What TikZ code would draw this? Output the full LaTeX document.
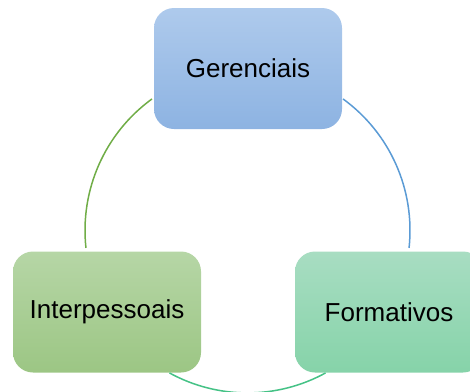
\documentclass[tikz,border=0pt]{standalone}
\usepackage{fontspec}
\setmainfont{Liberation Sans}
\usepackage{tikz}
\usetikzlibrary{positioning}

\definecolor{gerTop}{HTML}{AECAEC}
\definecolor{gerBot}{HTML}{8DB3E2}
\definecolor{intTop}{HTML}{B6D6A6}
\definecolor{intBot}{HTML}{9CC684}
\definecolor{forTop}{HTML}{A8DDC2}
\definecolor{forBot}{HTML}{86D3A9}
\definecolor{blueLine}{HTML}{5B9BD5}
\definecolor{greenLine}{HTML}{70AD47}
\definecolor{tealLine}{HTML}{45C286}

\begin{document}
\begin{tikzpicture}[x=1pt, y=1pt, node distance = 243.5pt]
    \useasboundingbox (0,0) rectangle (470,-391);
    \clip (0,0) rectangle (470,-391);

    \begin{scope}[every node/.style={rounded corners=20pt, minimum width=188pt, minimum height=121pt, inner sep=0pt, font=\fontsize{26}{30}\selectfont}]
        \node (G) [top color=gerTop, bottom color=gerBot] at (248,-68.5) {Gerenciais};
        \node (I) [below of = G, xshift=-141pt, top color=intTop, bottom color=intBot] {Interpessoais};
        \node (F) [below of = G, xshift=141pt, top color=forTop, bottom color=forBot] {Formativos};
    \end{scope}

    % ends of the cycle arcs
    \coordinate (hub) at (247.5,-230.4);
    \path (hub) ++(54:162.5) coordinate (GF);
    \path (hub) ++(241.3:162.5) coordinate (IF);
    \path (hub) ++(126:162.5) coordinate (IG);

    \begin{scope}[line width=1.5pt]
        \draw [blueLine] (GF) arc [start angle=54, end angle=-6.2, radius=162.5];
        \draw [tealLine] (IF) arc [start angle=241.3, end angle=298.7, radius=162.5];
        \draw [greenLine] (IG) arc [start angle=126, end angle=186.2, radius=162.5];
    \end{scope}
\end{tikzpicture}
\end{document}
